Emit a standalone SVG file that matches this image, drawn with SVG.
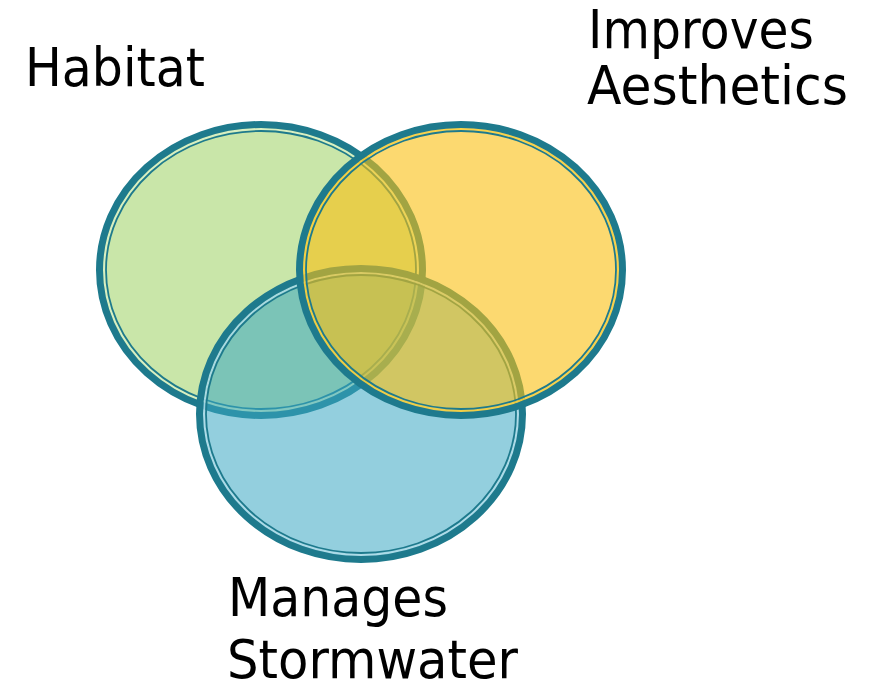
<svg xmlns="http://www.w3.org/2000/svg" width="879" height="683" viewBox="0 0 879 683">
  <style>
    .ring { fill: none; stroke: #1e7a8d; stroke-width: 7; }
    .thin { fill: none; stroke: #1e7a8d; stroke-width: 1.8; }
    .gap { fill: none; stroke-width: 2; }
    .lbl { font-family: "DejaVu Sans", "Liberation Sans", sans-serif; font-size: 53px; fill: #000; }
  </style>
  <rect width="879" height="683" fill="#ffffff"/>
  <g id="habitat">
    <ellipse cx="261" cy="270" rx="161.5" ry="145.5" fill="#c9e6a9"/>
    <ellipse cx="261" cy="270" rx="157" ry="141" class="gap" stroke="#d8efc2"/>
    <ellipse cx="261" cy="270" rx="155" ry="139" class="thin"/>
    <ellipse cx="261" cy="270" rx="161.5" ry="145.5" class="ring"/>
    <text class="lbl" x="25" y="86" textLength="180" lengthAdjust="spacingAndGlyphs">Habitat</text>
  </g>
  <g id="stormwater">
    <ellipse cx="361" cy="414" rx="161.5" ry="145.5" fill="#3aa7c3" fill-opacity="0.55"/>
    <ellipse cx="361" cy="414" rx="157" ry="141" class="gap" stroke="#b2dde9" stroke-opacity="0.85"/>
    <ellipse cx="361" cy="414" rx="155" ry="139" class="thin"/>
    <ellipse cx="361" cy="414" rx="161.5" ry="145.5" class="ring"/>
    <text class="lbl" x="228" y="616" textLength="220" lengthAdjust="spacingAndGlyphs">Manages</text>
    <text class="lbl" x="227" y="678" textLength="291" lengthAdjust="spacingAndGlyphs">Stormwater</text>
  </g>
  <g id="aesthetics">
    <ellipse cx="461" cy="270" rx="161.5" ry="145.5" fill="#fac011" fill-opacity="0.6"/>
    <ellipse cx="461" cy="270" rx="157" ry="141" class="gap" stroke="#f8d040" stroke-opacity="0.8"/>
    <ellipse cx="461" cy="270" rx="155" ry="139" class="thin"/>
    <ellipse cx="461" cy="270" rx="161.5" ry="145.5" class="ring"/>
    <text class="lbl" x="588" y="48" textLength="226" lengthAdjust="spacingAndGlyphs">Improves</text>
    <text class="lbl" x="587" y="104" textLength="261" lengthAdjust="spacingAndGlyphs">Aesthetics</text>
  </g>
  <g id="connectors"/>
</svg>
